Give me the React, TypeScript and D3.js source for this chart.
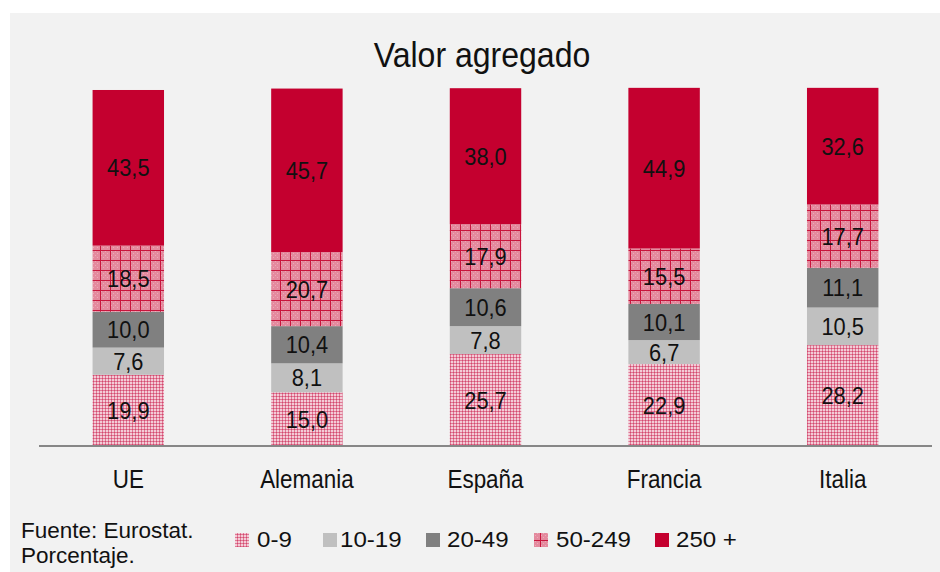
import React from "react";
import * as d3 from "d3";

const categories = ["UE", "Alemania", "España", "Francia", "Italia"];
const seriesNames = ["0-9", "10-19", "20-49", "50-249", "250 +"];
const s0_9 = [19.9, 15.0, 25.7, 22.9, 28.2];
const s10_19 = [7.6, 8.1, 7.8, 6.7, 10.5];
const s20_49 = [10.0, 10.4, 10.6, 10.1, 11.1];
const s50_249 = [18.5, 20.7, 17.9, 15.5, 17.7];
const s250 = [43.5, 45.7, 38.0, 44.9, 32.6];
const seriesValues = [s0_9, s10_19, s20_49, s50_249, s250];
const fills = ["url(#p09)", "#c0c0c0", "#808080", "url(#p50)", "#c4002f"];

const W = 940;
const H = 572;
const fmt = (v: number) => v.toFixed(1).replace(".", ",");
const font = "'Liberation Sans', Arial, sans-serif";

function T({ x, y, size, sx = 1, anchor = "middle", children }: any) {
  return (
    <g transform={`translate(${x},${y}) scale(${sx},1)`}>
      <text x={0} y={0} textAnchor={anchor} fontFamily={font} fontSize={size} fill="#111">
        {children}
      </text>
    </g>
  );
}

export default function App() {
  const x = d3.scaleBand<string>().domain(categories).range([39, 932]).paddingInner(0.6).paddingOuter(0.3);
  const y = d3.scaleLinear().domain([0, 100]).range([446, 88.2]);

  const rows = categories.map((c, i) => {
    const r: any = { cat: c };
    seriesNames.forEach((s, j) => (r[s] = seriesValues[j][i]));
    return r;
  });
  const stacked = d3.stack<any>().keys(seriesNames)(rows);

  const legendItems = [
    { sx: 235, tx: 257 },
    { sx: 323, tx: 340 },
    { sx: 426, tx: 447 },
    { sx: 534, tx: 556 },
    { sx: 655, tx: 676 },
  ];

  return (
    <svg width={W} height={H} style={{ position: "absolute", left: 0, top: 0, display: "block" }}>
      <defs>
        <pattern id="p09" width="3" height="3" patternUnits="userSpaceOnUse">
          <rect width="3" height="3" fill="#f3ccd6" />
          <rect x="0" y="0" width="1" height="3" fill="#e07896" />
          <rect x="0" y="0" width="3" height="1" fill="#e07896" />
          <rect x="0" y="0" width="1" height="1" fill="#d24a6c" />
        </pattern>
        <pattern id="p50" width="10" height="10" patternUnits="userSpaceOnUse">
          <rect width="10" height="10" fill="#e48a9e" />
          <rect x="1" y="1" width="1" height="1" fill="#ecaab8" />
          <rect x="3" y="3" width="1" height="1" fill="#ecaab8" />
          <rect x="5" y="5" width="1" height="1" fill="#ecaab8" />
          <rect x="7" y="7" width="1" height="1" fill="#ecaab8" />
          <rect x="5" y="1" width="1" height="1" fill="#ecaab8" />
          <rect x="1" y="5" width="1" height="1" fill="#ecaab8" />
          <rect x="7" y="3" width="1" height="1" fill="#ecaab8" />
          <rect x="3" y="7" width="1" height="1" fill="#ecaab8" />
          <rect x="0" y="0" width="1" height="10" fill="#c8143c" />
          <rect x="0" y="0" width="10" height="1" fill="#c8143c" />
        </pattern>
      </defs>
      <rect x={10} y={13} width={W - 10} height={H - 13} fill="#f2f2f2" />
      <T x={482} y={67} size={35} sx={0.915}>
        Valor agregado
      </T>
      {stacked.map((layer, j) =>
        layer.map((d, i) => {
          const x0 = x(categories[i])!;
          const y0 = y(d[1]);
          const y1 = y(d[0]);
          return (
            <g key={`${j}-${i}`}>
              <rect x={x0} y={y0} width={x.bandwidth()} height={y1 - y0} fill={fills[j]} />
              <T x={x0 + x.bandwidth() / 2} y={(y0 + y1) / 2 + 8.5} size={23} sx={0.95}>
                {fmt(seriesValues[j][i])}
              </T>
            </g>
          );
        })
      )}
      <line x1={39} x2={932} y1={446} y2={446} stroke="#878787" strokeWidth={2} />
      {categories.map((c) => (
        <T key={c} x={x(c)! + x.bandwidth() / 2} y={488} size={25.5} sx={0.88}>
          {c}
        </T>
      ))}
      <T x={21} y={538} size={22.5} sx={1} anchor="start">
        Fuente: Eurostat.
      </T>
      <T x={21} y={563} size={22.5} sx={1} anchor="start">
        Porcentaje.
      </T>
      {seriesNames.map((s, j) => (
        <g key={s}>
          <rect x={legendItems[j].sx} y={533} width={14} height={14} fill={fills[j]} />
          <T x={legendItems[j].tx} y={547} size={22.5} sx={1.07} anchor="start">
            {s}
          </T>
        </g>
      ))}
    </svg>
  );
}
